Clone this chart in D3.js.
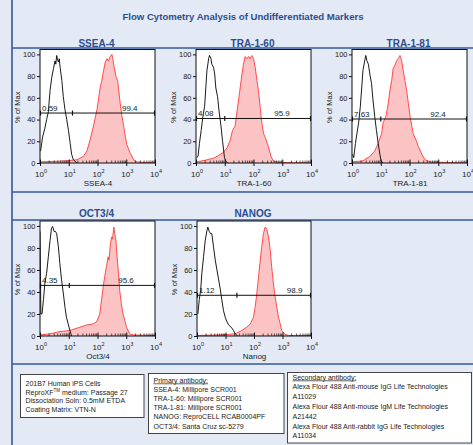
<!DOCTYPE html>
<html><head><meta charset="utf-8">
<script src="https://cdn.jsdelivr.net/npm/d3@7/dist/d3.min.js"></script>
<style>
html,body{margin:0;padding:0;background:#e3eaf6;}
svg{display:block;font-family:"Liberation Sans",Arial,sans-serif;}
</style></head><body>
<svg id="c" width="473" height="445"></svg>
<script>
// ---------- DATA ----------
const chartTitle = "Flow Cytometry Analysis of Undifferentiated Markers";
const panelTitles = ["SSEA-4", "TRA-1-60", "TRA-1-81", "OCT3/4", "NANOG"];
const axisTitles = ["SSEA-4", "TRA-1-60", "TRA-1-81", "Oct3/4", "Nanog"];
const yTicks = [0, 20, 40, 60, 80, 100];
const xTicks = [1, 10, 100, 1000, 10000];
const yLabel = "% of Max";

// [log10 intensity, % of max]
const controlSSEA4 = [[0.02,11],[0.09,24],[0.17,32],[0.23,40],[0.29,47],[0.35,67],[0.41,79],[0.47,87],[0.52,94],[0.55,91],[0.58,99],[0.61,95],[0.64,93],[0.67,96],[0.70,88],[0.76,76],[0.81,61],[0.87,49],[0.93,40],[0.99,30],[1.05,18],[1.10,8],[1.16,3],[1.22,1.5],[1.28,0]];
const stainedSSEA4 = [[0,1],[0.93,2],[1.28,3],[1.51,6],[1.63,11],[1.74,21],[1.86,34],[1.98,49],[2.03,58],[2.09,69],[2.15,76],[2.21,85],[2.27,93],[2.33,96],[2.38,94],[2.44,98],[2.50,100],[2.53,96],[2.58,88],[2.65,79],[2.70,76],[2.73,69],[2.79,55],[2.85,43],[2.91,34],[2.97,24],[3.02,17],[3.14,9],[3.26,3],[3.37,1],[4,0]];
const controlTRA160 = [[0.02,5],[0.07,6],[0.12,18],[0.18,30],[0.24,43],[0.30,52],[0.35,73],[0.38,85],[0.44,96],[0.47,99],[0.52,96],[0.55,91],[0.61,88],[0.65,82],[0.69,69],[0.75,61],[0.81,46],[0.87,34],[0.92,21],[0.96,12],[0.99,5],[1.04,1.5],[1.11,0]];
const stainedTRA160 = [[0,1],[0.32,2.5],[0.61,4.5],[0.79,7],[0.96,10],[1.08,14],[1.19,21],[1.27,30],[1.36,34],[1.42,46],[1.48,58],[1.54,70],[1.60,82],[1.65,91],[1.71,98],[1.77,96],[1.83,98],[1.88,96],[1.94,99],[2.00,96],[2.06,88],[2.12,76],[2.17,67],[2.23,52],[2.29,37],[2.35,27],[2.40,24],[2.52,15],[2.61,6],[2.69,2],[2.87,0.5],[4,0]];
const controlTRA181 = [[0.02,8],[0.06,5],[0.12,18],[0.17,27],[0.23,37],[0.29,52],[0.34,70],[0.38,85],[0.44,94],[0.48,99],[0.52,94],[0.57,91],[0.62,82],[0.68,73],[0.73,58],[0.79,43],[0.85,30],[0.91,18],[0.97,8],[1.01,2],[1.08,0]];
const stainedTRA181 = [[0,1],[0.38,2],[0.62,6],[0.79,11],[0.91,18],[1.03,27],[1.08,37],[1.18,43],[1.26,55],[1.32,67],[1.38,76],[1.43,87],[1.49,90],[1.55,94],[1.61,96],[1.67,99],[1.73,94],[1.78,85],[1.84,76],[1.90,67],[1.96,55],[2.02,43],[2.08,34],[2.13,27],[2.23,21],[2.31,15],[2.43,8],[2.54,3],[2.72,1],[4,0]];
const controlOCT34 = [[0,95],[0.03,20],[0.07,20],[0.12,33],[0.17,48],[0.23,57],[0.29,72],[0.35,87],[0.40,98],[0.44,99.5],[0.49,95],[0.54,95],[0.58,93],[0.64,81],[0.69,66],[0.75,51],[0.81,39],[0.87,26],[0.92,17],[0.98,11],[1.04,5],[1.10,0]];
const stainedOCT34 = [[0,1],[0.35,2],[0.69,4],[1.04,5],[1.39,8],[1.62,10],[1.85,11],[1.97,13],[2.08,20],[2.14,33],[2.20,45],[2.25,54],[2.31,63],[2.37,72],[2.40,69],[2.45,84],[2.49,90],[2.52,88],[2.57,99],[2.60,93],[2.64,87],[2.68,72],[2.73,57],[2.77,42],[2.83,29],[2.89,20],[2.95,14],[3.01,8],[3.12,2],[3.24,1],[4,0.5]];
const controlNANOG = [[0.03,20],[0.08,33],[0.13,42],[0.17,57],[0.23,72],[0.29,87],[0.35,96],[0.38,99],[0.43,95],[0.48,93],[0.52,93],[0.58,81],[0.64,69],[0.70,60],[0.76,51],[0.82,42],[0.87,33],[0.93,23],[0.99,17],[1.05,13],[1.11,10],[1.20,8],[1.28,5],[1.34,2],[1.43,0]];
const stainedNANOG = [[0,0.5],[0.87,1],[1.34,2],[1.57,5],[1.75,8],[1.87,11],[1.98,17],[2.04,26],[2.10,39],[2.16,54],[2.22,69],[2.27,81],[2.33,93],[2.39,99],[2.45,97],[2.51,90],[2.57,78],[2.62,63],[2.68,48],[2.74,36],[2.80,26],[2.86,17],[2.92,11],[2.97,5],[3.09,1.5],[3.21,0.5],[4,0.5]];
const controls = [controlSSEA4, controlTRA160, controlTRA181, controlOCT34, controlNANOG];
const stained = [stainedSSEA4, stainedTRA160, stainedTRA181, stainedOCT34, stainedNANOG];

const gateLevels = [46, 41, 40.5, 46, 37];
const gateSplits = [1.13, 1.0, 1.0, 1.02, 1.4];
const gateLeftLabels = ["0.59", "4.08", "7.63", "4.35", "1.12"];
const gateRightLabels = ["99.4", "95.9", "92.4", "95.6", "98.9"];
const gateRightLabelPos = [2.85, 2.72, 2.72, 2.72, 3.15];

const cellInfo = ["201B7 Human iPS Cells", "ReproXF|TM| medium: Passage 27", "Dissociation Soln: 0.5mM ETDA", "Coating Matrix: VTN-N"];
const primaryTitle = "Primary antibody:";
const primaryInfo = ["SSEA-4: Millipore SCR001", "TRA-1-60:  Millipore SCR001", "TRA-1-81:  Millipore SCR001", "NANOG: ReproCELL  RCAB0004PF", "OCT3/4: Santa Cruz sc-5279"];
const secondaryTitle = "Secondary antibody:";
const secondaryInfo = ["Alexa Flour 488 Anti-mouse IgG Life Technologies", "A11029", "Alexa Flour 488 Anti-mouse IgM Life Technologies", "A21442", "Alexa Flour 488 Anti-rabbit IgG Life Technologies", "A11034"];

// ---------- LAYOUT ----------
const svg = d3.select("#c");
const blue = "#34589a";
const titleBlue = "#2d4d8e";
const frames = [
  {x0:40, x1:155, y0:49.5, y1:163},
  {x0:196, x1:311, y0:49.5, y1:163},
  {x0:352, x1:467, y0:49.5, y1:163},
  {x0:40, x1:155, y0:221, y1:336},
  {x0:197, x1:311, y0:221, y1:336}
];
const headingY = [46.5, 46.5, 46.5, 216.5, 216.5];

svg.append("text").attr("x", 243).attr("y", 19.5).attr("text-anchor", "middle")
  .attr("font-size", 9.6).attr("font-weight", "bold").attr("fill", titleBlue).text(chartTitle);

// grid lines
[48, 192, 220, 364].forEach(y => svg.append("line").attr("x1", 12).attr("x2", 473).attr("y1", y).attr("y2", y)
  .attr("stroke", blue).attr("stroke-width", 1.6));
svg.append("line").attr("x1", 12).attr("x2", 12).attr("y1", 0).attr("y2", 445).attr("stroke", blue).attr("stroke-width", 1.6);

panelTitles.forEach((t, i) => {
  const f = frames[i];
  const xs = d3.scaleLog().domain([1, 10000]).range([f.x0, f.x1]);
  const ys = d3.scaleLinear().domain([0, 100]).range([f.y1, f.y1 - (f.y1 - f.y0) / 1.045]);
  const g = svg.append("g");
  g.append("text").attr("x", (f.x0 + f.x1) / 2 - 1).attr("y", headingY[i]).attr("text-anchor", "middle")
    .attr("font-size", 10).attr("font-weight", "bold").attr("fill", titleBlue).text(t);
  g.append("rect").attr("x", f.x0).attr("y", f.y0).attr("width", f.x1 - f.x0).attr("height", f.y1 - f.y0).attr("fill", "#fff");
  const clipId = "clip" + i;
  g.append("clipPath").attr("id", clipId).append("rect").attr("x", f.x0).attr("y", f.y0).attr("width", f.x1 - f.x0).attr("height", f.y1 - f.y0);
  const px = d => xs(Math.pow(10, d[0]));
  const area = d3.area().x(px).y0(ys(0)).y1(d => ys(d[1]));
  const line = d3.line().x(px).y(d => ys(d[1]));
  const cg = g.append("g").attr("clip-path", `url(#${clipId})`);
  cg.append("path").datum(stained[i]).attr("d", area).attr("fill", "#fbc3c3");
  cg.append("path").datum(stained[i]).attr("d", line).attr("fill", "none").attr("stroke", "#ff3b3b").attr("stroke-width", 0.9);
  cg.append("path").datum(controls[i]).attr("d", line).attr("fill", "none").attr("stroke", "#000").attr("stroke-width", 0.9);
  // frame
  g.append("rect").attr("x", f.x0).attr("y", f.y0).attr("width", f.x1 - f.x0).attr("height", f.y1 - f.y0)
    .attr("fill", "none").attr("stroke", "#111").attr("stroke-width", 1);
  // y axis
  const ya = d3.axisLeft(ys).tickValues(yTicks).tickSize(3).tickPadding(1.5);
  const yg = g.append("g").attr("transform", `translate(${f.x0},0)`).call(ya);
  yg.select(".domain").remove();
  yg.selectAll("text").attr("font-size", 7.5).attr("fill", "#222").attr("font-family", "Liberation Sans, Arial, sans-serif");
  yg.selectAll("line").attr("stroke", "#111");
  g.append("text").attr("transform", `translate(${f.x0 - 20},${(f.y0 + f.y1) / 2 + 1}) rotate(-90)`)
    .attr("text-anchor", "middle").attr("font-size", 7.5).attr("fill", "#222").text(yLabel);
  // x axis
  const xa = d3.axisBottom(xs).tickValues(xTicks).tickSize(3).tickFormat("");
  const xg = g.append("g").attr("transform", `translate(0,${f.y1})`).call(xa);
  xg.select(".domain").remove();
  xg.selectAll("line").attr("stroke", "#111");
  const minor = [];
  for (let d = 1; d < 10000; d *= 10) for (let k = 2; k < 10; k++) minor.push(d * k);
  const xm = d3.axisTop(xs).tickValues(minor).tickSize(2.5).tickFormat("");
  const xmg = g.append("g").attr("transform", `translate(0,${f.y1})`).call(xm);
  xmg.select(".domain").remove();
  xmg.selectAll("line").attr("stroke", "#111").attr("stroke-width", 0.7);
  const xmaj = d3.axisTop(xs).tickValues(xTicks).tickSize(3.5).tickFormat("");
  const xmj = g.append("g").attr("transform", `translate(0,${f.y1})`).call(xmaj);
  xmj.select(".domain").remove();
  xmj.selectAll("line").attr("stroke", "#111");
  xTicks.forEach(v => {
    const t = g.append("text").attr("x", xs(v) + 1).attr("y", f.y1 + 13.5).attr("text-anchor", "middle")
      .attr("font-size", 8).attr("fill", "#222");
    t.append("tspan").text("10");
    t.append("tspan").attr("dy", -3.8).attr("font-size", 5.5).text(Math.round(Math.log10(v)));
  });
  g.append("text").attr("x", (f.x0 + f.x1) / 2 + 0.5).attr("y", f.y1 + 22.5).attr("text-anchor", "middle")
    .attr("font-size", 8).attr("fill", "#222").text(axisTitles[i]);
  // gate
  const gy = ys(gateLevels[i]);
  const gs = xs(Math.pow(10, gateSplits[i]));
  g.append("line").attr("x1", f.x0).attr("x2", f.x1).attr("y1", gy).attr("y2", gy).attr("stroke", "#111").attr("stroke-width", 1);
  [f.x0 + 0.5, gs, f.x1 - 0.5].forEach(x => g.append("line").attr("x1", x).attr("x2", x).attr("y1", gy - 2.5).attr("y2", gy + 2.5)
    .attr("stroke", "#111").attr("stroke-width", 1.2));
  g.append("text").attr("x", f.x0 + 2).attr("y", gy - 2.5).attr("font-size", 8).attr("fill", "#222").text(gateLeftLabels[i]);
  g.append("text").attr("x", xs(Math.pow(10, gateRightLabelPos[i]))).attr("y", gy - 2.5).attr("font-size", 8).attr("fill", "#222").text(gateRightLabels[i]);
});

// ---------- INFO BOXES ----------
function box(x, y, w, h, title, lines, y0, dy) {
  svg.append("rect").attr("x", x).attr("y", y).attr("width", w).attr("height", h)
    .attr("fill", "#fff").attr("stroke", "#444").attr("stroke-width", 1);
  let yy = y0;
  if (title) {
    const t = svg.append("text").attr("x", x + 5).attr("y", yy).attr("font-size", 7).attr("fill", "#222")
      .attr("text-decoration", "underline").text(title);
    yy += dy;
  }
  lines.forEach(l => {
    const t = svg.append("text").attr("x", x + 5).attr("y", yy).attr("font-size", 7).attr("fill", "#222");
    const parts = l.split("|");
    parts.forEach((p, k) => {
      if (k % 2 === 1) t.append("tspan").attr("dy", -2.5).attr("font-size", 4.5).text(p);
      else t.append("tspan").attr("dy", k > 0 ? 2.5 : 0).text(p);
    });
    yy += dy;
  });
}
box(20.5, 374.5, 123.5, 43, null, cellInfo, 386, 8.7);
box(148.5, 373.5, 135.5, 60, primaryTitle, primaryInfo, 382.5, 9.2);
box(287.5, 372.5, 184, 70.5, secondaryTitle, secondaryInfo, 379.5, 9.8);
</script>
</body></html>
